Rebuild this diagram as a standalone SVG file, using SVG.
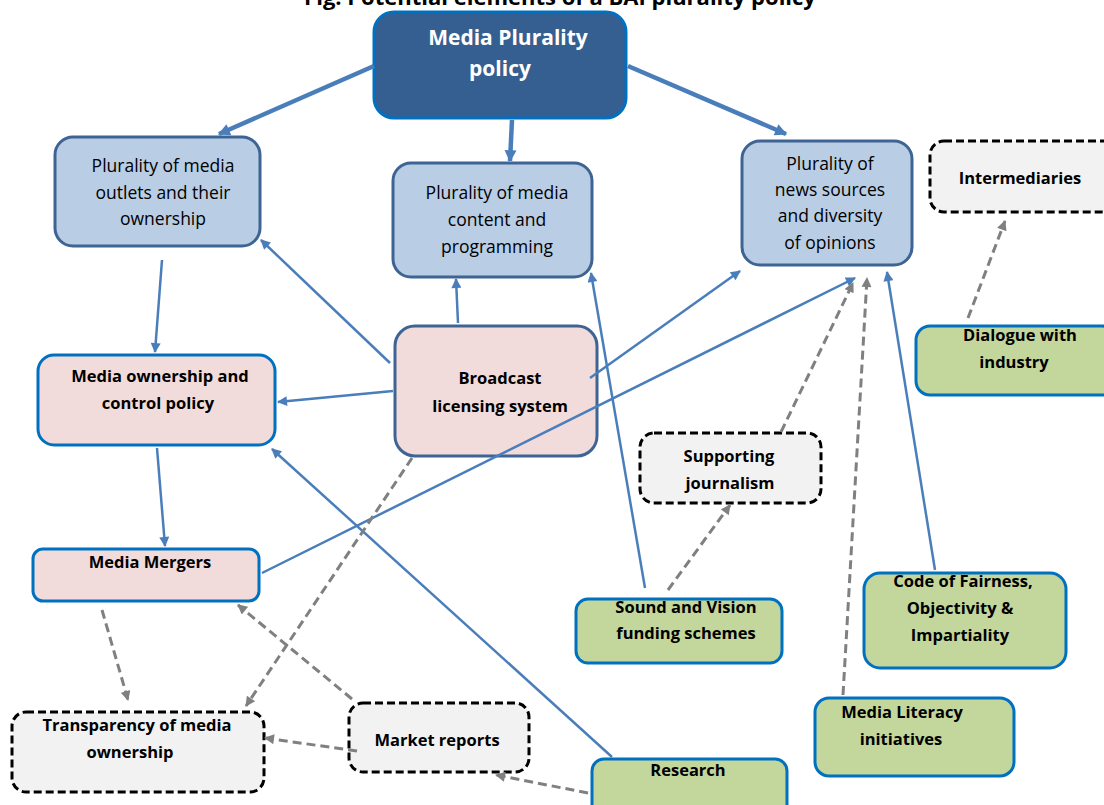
<svg xmlns="http://www.w3.org/2000/svg" width="1104" height="805" viewBox="0 0 1104 805">
<defs>
<style>
text{font-family:"Open Sans","Liberation Sans",sans-serif;text-anchor:middle;fill:#000}
.b{font-weight:bold}
.reg{font-size:17.5px}
.bd{font-size:16.5px;font-weight:bold}
.blue{fill:#b9cde5;stroke:#3e6494;stroke-width:3}
.pink{fill:#f2dcdb;stroke:#0070c0;stroke-width:3}
.pinkd{fill:#f2dcdb;stroke:#3e6494;stroke-width:3}
.green{fill:#c3d69b;stroke:#0070c0;stroke-width:3}
.dash{fill:#f2f2f2;stroke:#000;stroke-width:3;stroke-dasharray:8 4}
.c{stroke:#4a7ebb;stroke-width:2.5;fill:none;marker-end:url(#ab)}
.ct{stroke:#4a7ebb;stroke-width:4.5;fill:none;marker-end:url(#ab2)}
.g{stroke:#808080;stroke-width:3;fill:none;stroke-dasharray:9 5;marker-end:url(#ag)}
</style>
<marker id="ab" viewBox="0 0 10 10" refX="9" refY="5" markerWidth="12" markerHeight="10" markerUnits="userSpaceOnUse" orient="auto"><path d="M0,0L10,5L0,10z" fill="#4a7ebb"/></marker>
<marker id="ab2" viewBox="0 0 10 10" refX="9" refY="5" markerWidth="13" markerHeight="12" markerUnits="userSpaceOnUse" orient="auto"><path d="M0,0L10,5L0,10z" fill="#4a7ebb"/></marker>
<marker id="ag" viewBox="0 0 10 10" refX="9" refY="5" markerWidth="12" markerHeight="10" markerUnits="userSpaceOnUse" orient="auto"><path d="M0,0L10,5L0,10z" fill="#808080"/></marker>
</defs>
<rect width="1104" height="805" fill="#fff"/>
<text x="560" y="5" class="b" style="font-size:22px">Fig. Potential elements of a BAI plurality policy</text>

<g id="n-mpp">
<rect x="374" y="12" width="252" height="106" rx="20" fill="#355f91" stroke="#0070c0" stroke-width="3"/>
<text x="508" y="45" class="b" style="font-size:21px;fill:#fff">Media Plurality</text>
<text x="500" y="76" class="b" style="font-size:21px;fill:#fff">policy</text>
</g>
<g id="n-outlets">
<rect x="55" y="137" width="205" height="109" rx="18" class="blue"/>
<text x="163" y="172" class="reg">Plurality of media</text>
<text x="163" y="199" class="reg">outlets and their</text>
<text x="163" y="225" class="reg">ownership</text>
</g>
<g id="n-content">
<rect x="393" y="163" width="199" height="114" rx="18" class="blue"/>
<text x="497" y="199" class="reg">Plurality of media</text>
<text x="497" y="226" class="reg">content and</text>
<text x="497" y="253" class="reg">programming</text>
</g>
<g id="n-news">
<rect x="742" y="141" width="170" height="124" rx="18" class="blue"/>
<text x="830" y="170" class="reg">Plurality of</text>
<text x="830" y="196" class="reg">news sources</text>
<text x="830" y="222" class="reg">and diversity</text>
<text x="830" y="249" class="reg">of opinions</text>
</g>
<g id="n-intermediaries">
<rect x="930" y="141" width="190" height="71" rx="14" class="dash"/>
<text x="1020" y="184" class="bd">Intermediaries</text>
</g>
<g id="n-dialogue">
<rect x="916" y="326" width="200" height="69" rx="14" class="green"/>
<text x="1020" y="341" class="bd">Dialogue with</text>
<text x="1014" y="368" class="bd">industry</text>
</g>
<g id="n-ownership">
<rect x="38" y="355" width="237" height="90" rx="16" class="pink"/>
<text x="160" y="382" class="bd">Media ownership and</text>
<text x="158" y="409" class="bd">control policy</text>
</g>
<g id="n-broadcast">
<rect x="395" y="326" width="202" height="130" rx="20" class="pinkd"/>
<text x="500" y="384" class="bd">Broadcast</text>
<text x="500" y="412" class="bd">licensing system</text>
</g>
<g id="n-mergers">
<rect x="33" y="549" width="226" height="52" rx="10" class="pink"/>
<text x="150" y="568" class="bd">Media Mergers</text>
</g>
<g id="n-supporting">
<rect x="640" y="433" width="181" height="70" rx="14" class="dash"/>
<text x="729" y="462" class="bd">Supporting</text>
<text x="730" y="489" class="bd">journalism</text>
</g>
<g id="n-sound">
<rect x="576" y="599" width="206" height="64" rx="12" class="green"/>
<text x="686" y="613" class="bd">Sound and Vision</text>
<text x="686" y="639" class="bd">funding schemes</text>
</g>
<g id="n-code">
<rect x="864" y="573" width="202" height="95" rx="16" class="green"/>
<text x="963" y="587" class="bd">Code of Fairness,</text>
<text x="960" y="614" class="bd">Objectivity &amp;</text>
<text x="960" y="641" class="bd">Impartiality</text>
</g>
<g id="n-literacy">
<rect x="815" y="698" width="199" height="78" rx="14" class="green"/>
<text x="902" y="718" class="bd">Media Literacy</text>
<text x="901" y="745" class="bd">initiatives</text>
</g>
<g id="n-transparency">
<rect x="12" y="712" width="252" height="80" rx="14" class="dash"/>
<text x="137" y="731" class="bd">Transparency of media</text>
<text x="130" y="758" class="bd">ownership</text>
</g>
<g id="n-market">
<rect x="349" y="703" width="180" height="69" rx="14" class="dash"/>
<text x="437" y="746" class="bd">Market reports</text>
</g>
<g id="n-research">
<rect x="592" y="759" width="195" height="60" rx="12" class="green"/>
<text x="688" y="776" class="bd">Research</text>
</g>

<g id="connectors">
<line class="ct" x1="374" y1="66" x2="219" y2="134"/>
<line class="ct" x1="512" y1="120" x2="510" y2="161"/>
<line class="ct" x1="628" y1="66" x2="786" y2="134"/>
<line class="c" x1="162" y1="260" x2="155" y2="352"/>
<line class="c" x1="390" y1="363" x2="261" y2="240"/>
<line class="c" x1="458" y1="323" x2="456" y2="279"/>
<line class="c" x1="590" y1="378" x2="740" y2="271"/>
<line class="c" x1="393" y1="391" x2="278" y2="402"/>
<line class="c" x1="157" y1="448" x2="165" y2="546"/>
<line class="c" x1="262" y1="573" x2="855" y2="278"/>
<line class="c" x1="612" y1="757" x2="272" y2="449"/>
<line class="c" x1="645" y1="588" x2="591" y2="273"/>
<line class="c" x1="935" y1="570" x2="887" y2="272"/>
<line class="g" x1="968" y1="318" x2="1005" y2="221"/>
<line class="g" x1="412" y1="458" x2="246" y2="706"/>
<line class="g" x1="102" y1="610" x2="128" y2="700"/>
<line class="g" x1="352" y1="699" x2="238" y2="605"/>
<line class="g" x1="357" y1="751" x2="265" y2="738"/>
<line class="g" x1="588" y1="793" x2="496" y2="775"/>
<line class="g" x1="668" y1="590" x2="730" y2="505"/>
<line class="g" x1="781" y1="432" x2="853" y2="283"/>
<line class="g" x1="843" y1="695" x2="867" y2="278"/>
</g>
</svg>
